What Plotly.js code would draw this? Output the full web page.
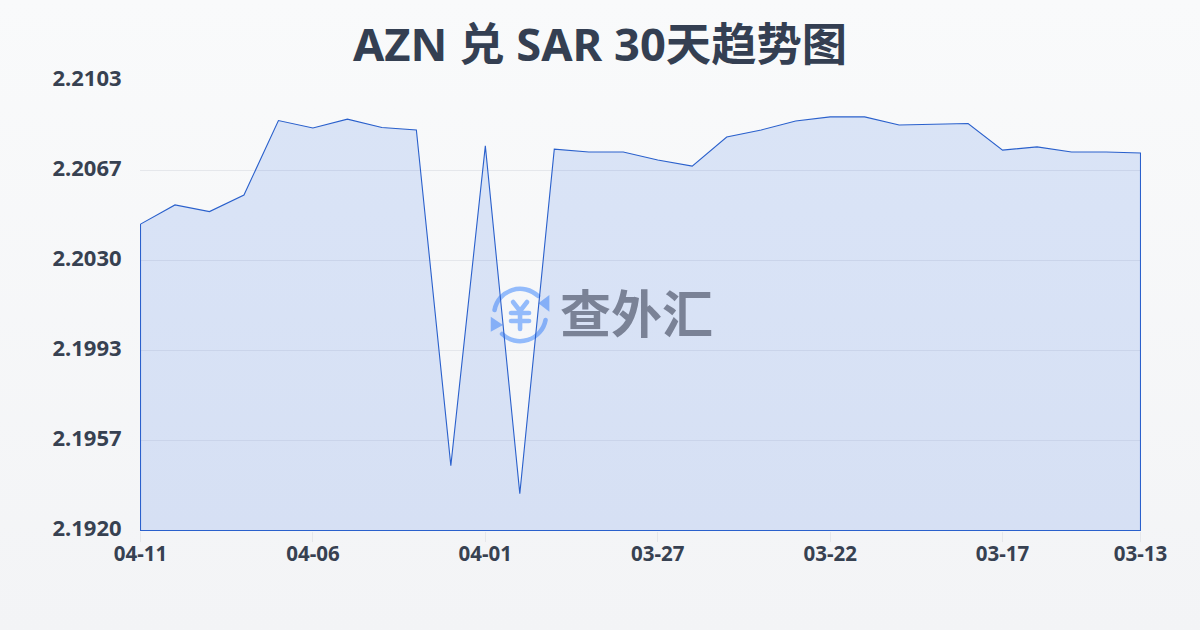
<!DOCTYPE html>
<html><head><meta charset="utf-8">
<script src="https://cdn.plot.ly/plotly-3.0.1.min.js"></script>
<style>
html,body{margin:0;padding:0;width:1200px;height:630px;overflow:hidden;background:linear-gradient(180deg,#f9fafb 0%,#f3f4f6 100%);}
#c{width:1200px;height:630px;}
</style></head><body><div id="c"></div>
<script>
const dates=["04-11","04-10","04-09","04-08","04-07","04-06","04-05","04-04","04-03","04-02","04-01","03-31","03-30","03-29","03-28","03-27","03-26","03-25","03-24","03-23","03-22","03-21","03-20","03-19","03-18","03-17","03-16","03-15","03-14","03-13"];
const rates=[2.20446,2.20524,2.20497,2.20564,2.20867,2.20837,2.20873,2.20839,2.20829,2.19464,2.20764,2.19350,2.20751,2.20739,2.20739,2.20707,2.20682,2.20800,2.20829,2.20865,2.20882,2.20882,2.20849,2.20851,2.20855,2.20747,2.20760,2.20739,2.20739,2.20735];
const yTicks=[2.192,2.19566,2.19932,2.20298,2.20666,2.2103];
const xTicks=["04-11","04-06","04-01","03-27","03-22","03-17","03-13"];
const titleText="AZN 兑 SAR 30天趋势图";
const watermark="查外汇";
const font='"Noto Sans","Noto Sans CJK SC",sans-serif';
const ink="#374151";
const logo='<svg xmlns="http://www.w3.org/2000/svg" width="64" height="64" viewBox="0 0 64 64">'+
'<g fill="none" stroke="#93bbfb" stroke-linecap="round">'+
'<path stroke-width="4.5" d="M6.5 27 A26 26 0 0 1 50 13"/>'+
'<path stroke-width="4.5" d="M57.5 37 A26 26 0 0 1 14 51"/>'+
'<path stroke-width="4.6" d="M25 19 L32 28 L39 19 M32 28 V46 M23 30 H41 M23 38 H41"/></g>'+
'<path fill="#93bbfb" d="M61.3 12 V28.7 L50.3 20.3 Z"/><path fill="#93bbfb" d="M2.7 33.7 V48.7 L15 42 Z"/></svg>';
const closedX=dates.concat([dates[dates.length-1],dates[0],dates[0]]);
const closedY=rates.concat([yTicks[0],yTicks[0],rates[0]]);
const xPad=0.0145, yPad=0.00002033;
Plotly.newPlot("c",[{
  type:"scatter",mode:"lines",x:closedX,y:closedY,fill:"toself",
  fillcolor:"rgba(60,116,228,0.155)",line:{color:"#2a60cc",width:1.1},
  hoverinfo:"skip",cliponaxis:false
}],{
  width:1200,height:630,margin:{l:140,r:59,t:80,b:99},
  paper_bgcolor:"rgba(0,0,0,0)",plot_bgcolor:"rgba(0,0,0,0)",showlegend:false,
  font:{family:font,color:ink},
  title:{text:"<b>"+titleText+"</b>",x:0.5,xanchor:"center",y:0.928,yanchor:"middle",font:{family:font,size:45.3,color:"#343f52"}},
  xaxis:{type:"category",categoryorder:"array",categoryarray:dates,range:[-xPad,29+xPad],tickmode:"array",tickvals:xTicks,ticktext:xTicks,
    showgrid:false,zeroline:false,showline:false,ticks:"outside",ticklen:10,tickwidth:1,tickcolor:"#e5e7eb",ticklabelstandoff:-6,
    tickfont:{family:font,size:20.5,color:ink,weight:700}},
  yaxis:{range:[yTicks[0]-yPad,yTicks[5]+yPad],tickmode:"array",tickvals:yTicks,tickformat:".4f",
    showgrid:true,gridcolor:"#e5e7eb",gridwidth:1,zeroline:false,showline:false,ticks:"outside",ticklen:13,tickcolor:"rgba(0,0,0,0)",ticklabelshift:-2,
    tickfont:{family:font,size:22,color:ink,weight:700}},
  images:[{source:"data:image/svg+xml;charset=utf-8,"+encodeURIComponent(logo),xref:"paper",yref:"paper",
    x:0.3477,y:0.5499,sizex:0.06394,sizey:0.1419,xanchor:"left",yanchor:"top",sizing:"stretch",layer:"below"}],
  annotations:[{text:"<b>"+watermark+"</b>",xref:"paper",yref:"paper",x:0.496,y:0.4878,xanchor:"center",yanchor:"middle",showarrow:false,
    font:{family:'"Noto Sans CJK SC",sans-serif',size:51,color:"#7a8296"}}]
},{staticPlot:true,displayModeBar:false});
</script></body></html>
